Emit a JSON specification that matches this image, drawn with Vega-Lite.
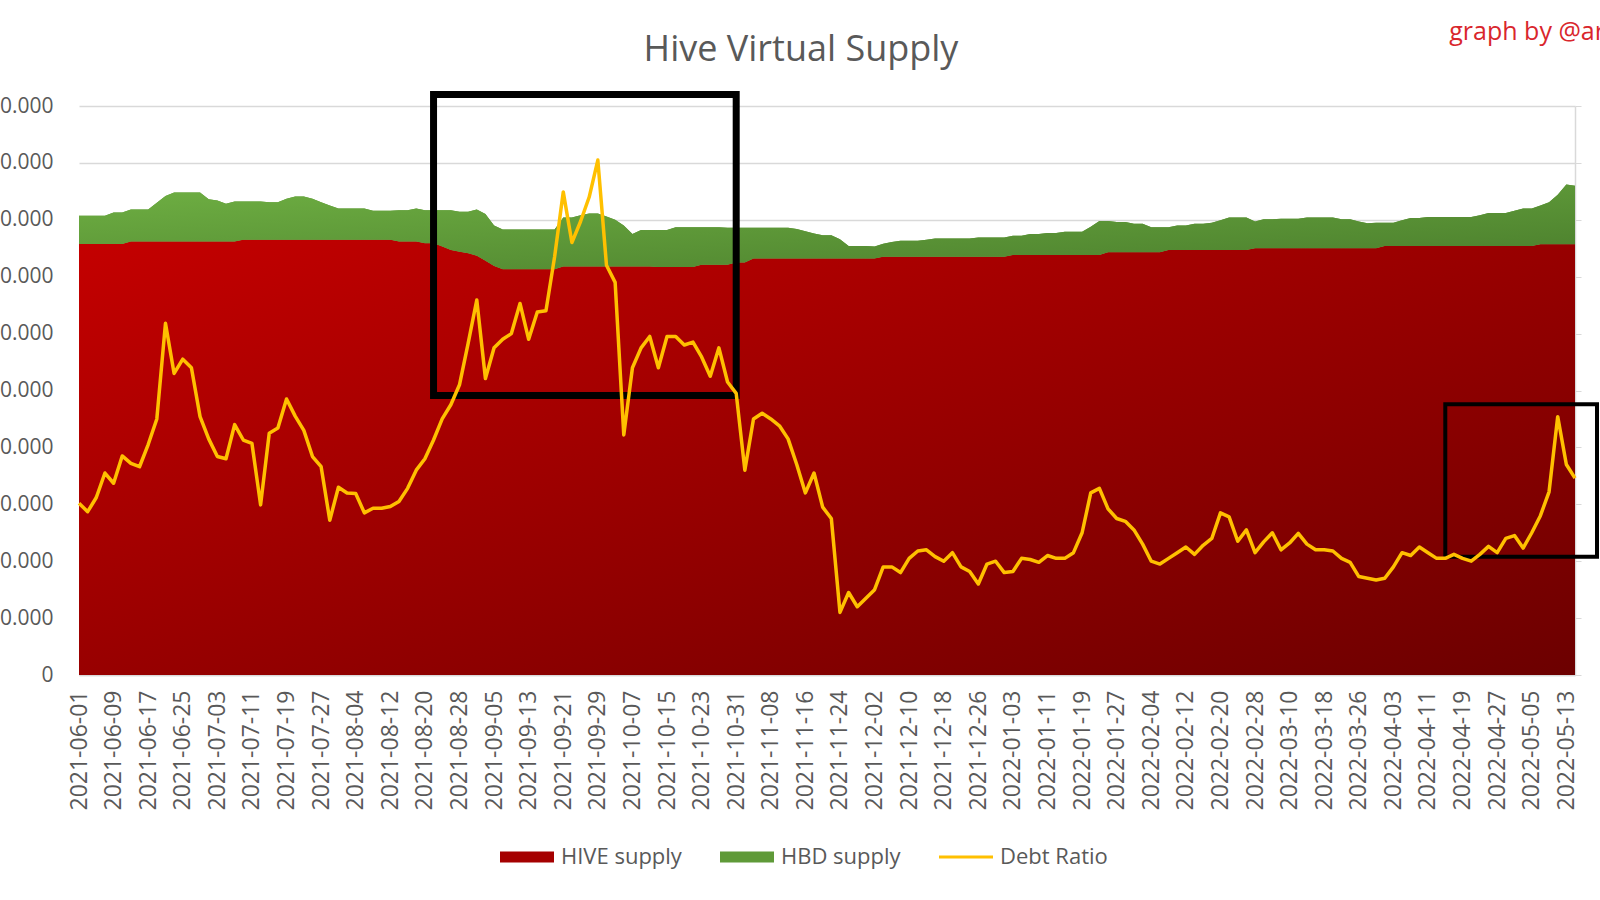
{
  "$schema": "https://vega.github.io/schema/vega-lite/v6.json",
  "width": 1496,
  "height": 569,
  "autosize": {"type": "none"},
  "padding": {"left": 79, "top": 106, "right": 25, "bottom": 225},
  "background": "white",
  "config": {
    "font": "Open Sans",
    "view": {"stroke": null},
    "axis": {"labelFont": "Open Sans", "labelColor": "#595959", "labelFontSize": 21}
  },
  "title": {
    "text": "Hive Virtual Supply",
    "font": "Open Sans",
    "fontSize": 36,
    "fontWeight": "normal",
    "color": "#595959",
    "anchor": "middle",
    "dx": -26,
    "offset": -49
  },
  "datasets": {
    "supply": [
      {"date": "2021-06-01", "hive": 378.8, "virtual": 403.5, "ratio": 3.02},
      {"date": "2021-06-03", "hive": 378.8, "virtual": 403.5, "ratio": 2.87},
      {"date": "2021-06-05", "hive": 378.8, "virtual": 403.5, "ratio": 3.12},
      {"date": "2021-06-07", "hive": 378.8, "virtual": 403.5, "ratio": 3.55},
      {"date": "2021-06-09", "hive": 378.8, "virtual": 406.5, "ratio": 3.37},
      {"date": "2021-06-11", "hive": 378.8, "virtual": 406.5, "ratio": 3.85},
      {"date": "2021-06-13", "hive": 381.0, "virtual": 409.0, "ratio": 3.72},
      {"date": "2021-06-15", "hive": 381.0, "virtual": 409.0, "ratio": 3.66},
      {"date": "2021-06-17", "hive": 381.0, "virtual": 409.0, "ratio": 4.05},
      {"date": "2021-06-19", "hive": 381.0, "virtual": 415.0, "ratio": 4.50},
      {"date": "2021-06-21", "hive": 381.0, "virtual": 421.0, "ratio": 6.18},
      {"date": "2021-06-23", "hive": 381.0, "virtual": 424.0, "ratio": 5.30},
      {"date": "2021-06-25", "hive": 381.0, "virtual": 424.0, "ratio": 5.55},
      {"date": "2021-06-27", "hive": 381.0, "virtual": 424.0, "ratio": 5.40},
      {"date": "2021-06-29", "hive": 381.0, "virtual": 424.0, "ratio": 4.54},
      {"date": "2021-07-01", "hive": 381.0, "virtual": 418.0, "ratio": 4.15},
      {"date": "2021-07-03", "hive": 381.0, "virtual": 417.0, "ratio": 3.84},
      {"date": "2021-07-05", "hive": 381.0, "virtual": 414.0, "ratio": 3.80},
      {"date": "2021-07-07", "hive": 381.0, "virtual": 416.0, "ratio": 4.40},
      {"date": "2021-07-09", "hive": 382.5, "virtual": 416.0, "ratio": 4.13},
      {"date": "2021-07-11", "hive": 382.5, "virtual": 416.0, "ratio": 4.07},
      {"date": "2021-07-13", "hive": 382.5, "virtual": 416.0, "ratio": 2.99},
      {"date": "2021-07-15", "hive": 382.5, "virtual": 415.5, "ratio": 4.25},
      {"date": "2021-07-17", "hive": 382.5, "virtual": 415.5, "ratio": 4.34},
      {"date": "2021-07-19", "hive": 382.5, "virtual": 418.5, "ratio": 4.85},
      {"date": "2021-07-21", "hive": 382.5, "virtual": 420.5, "ratio": 4.55},
      {"date": "2021-07-23", "hive": 382.5, "virtual": 420.5, "ratio": 4.30},
      {"date": "2021-07-25", "hive": 382.5, "virtual": 418.5, "ratio": 3.84},
      {"date": "2021-07-27", "hive": 382.5, "virtual": 415.5, "ratio": 3.66},
      {"date": "2021-07-29", "hive": 382.5, "virtual": 412.5, "ratio": 2.72},
      {"date": "2021-07-31", "hive": 382.5, "virtual": 410.0, "ratio": 3.30},
      {"date": "2021-08-02", "hive": 382.5, "virtual": 410.0, "ratio": 3.20},
      {"date": "2021-08-04", "hive": 382.5, "virtual": 410.0, "ratio": 3.19},
      {"date": "2021-08-06", "hive": 382.5, "virtual": 410.0, "ratio": 2.85},
      {"date": "2021-08-08", "hive": 382.5, "virtual": 408.0, "ratio": 2.93},
      {"date": "2021-08-10", "hive": 382.5, "virtual": 408.0, "ratio": 2.93},
      {"date": "2021-08-12", "hive": 382.5, "virtual": 408.0, "ratio": 2.96},
      {"date": "2021-08-14", "hive": 381.0, "virtual": 408.5, "ratio": 3.05},
      {"date": "2021-08-16", "hive": 381.0, "virtual": 408.5, "ratio": 3.28},
      {"date": "2021-08-18", "hive": 381.0, "virtual": 410.0, "ratio": 3.60},
      {"date": "2021-08-20", "hive": 379.5, "virtual": 408.5, "ratio": 3.80},
      {"date": "2021-08-22", "hive": 379.5, "virtual": 408.5, "ratio": 4.13},
      {"date": "2021-08-24", "hive": 376.5, "virtual": 408.5, "ratio": 4.50},
      {"date": "2021-08-26", "hive": 373.5, "virtual": 408.5, "ratio": 4.75},
      {"date": "2021-08-28", "hive": 372.0, "virtual": 407.0, "ratio": 5.10},
      {"date": "2021-08-30", "hive": 370.5, "virtual": 407.0, "ratio": 5.83},
      {"date": "2021-09-01", "hive": 368.5, "virtual": 409.0, "ratio": 6.59},
      {"date": "2021-09-03", "hive": 364.0, "virtual": 405.0, "ratio": 5.21},
      {"date": "2021-09-05", "hive": 359.5, "virtual": 395.0, "ratio": 5.75},
      {"date": "2021-09-07", "hive": 356.5, "virtual": 391.5, "ratio": 5.90},
      {"date": "2021-09-09", "hive": 356.5, "virtual": 391.5, "ratio": 6.00},
      {"date": "2021-09-11", "hive": 356.5, "virtual": 391.5, "ratio": 6.53},
      {"date": "2021-09-13", "hive": 356.5, "virtual": 391.5, "ratio": 5.90},
      {"date": "2021-09-15", "hive": 356.5, "virtual": 391.5, "ratio": 6.38},
      {"date": "2021-09-17", "hive": 356.5, "virtual": 391.5, "ratio": 6.40},
      {"date": "2021-09-19", "hive": 356.5, "virtual": 391.5, "ratio": 7.35},
      {"date": "2021-09-21", "hive": 359.0, "virtual": 402.0, "ratio": 8.49},
      {"date": "2021-09-23", "hive": 359.0, "virtual": 402.0, "ratio": 7.60},
      {"date": "2021-09-25", "hive": 359.0, "virtual": 404.0, "ratio": 7.97},
      {"date": "2021-09-27", "hive": 359.0, "virtual": 405.5, "ratio": 8.40},
      {"date": "2021-09-29", "hive": 359.0, "virtual": 405.5, "ratio": 9.05},
      {"date": "2021-10-01", "hive": 359.0, "virtual": 403.0, "ratio": 7.20},
      {"date": "2021-10-03", "hive": 359.0, "virtual": 400.0, "ratio": 6.90},
      {"date": "2021-10-05", "hive": 359.0, "virtual": 395.0, "ratio": 4.22},
      {"date": "2021-10-07", "hive": 359.0, "virtual": 387.5, "ratio": 5.40},
      {"date": "2021-10-09", "hive": 359.0, "virtual": 391.0, "ratio": 5.75},
      {"date": "2021-10-11", "hive": 359.0, "virtual": 391.0, "ratio": 5.95},
      {"date": "2021-10-13", "hive": 358.5, "virtual": 391.0, "ratio": 5.40},
      {"date": "2021-10-15", "hive": 358.5, "virtual": 391.0, "ratio": 5.95},
      {"date": "2021-10-17", "hive": 358.5, "virtual": 393.5, "ratio": 5.95},
      {"date": "2021-10-19", "hive": 358.5, "virtual": 393.5, "ratio": 5.80},
      {"date": "2021-10-21", "hive": 358.5, "virtual": 393.5, "ratio": 5.85},
      {"date": "2021-10-23", "hive": 360.5, "virtual": 393.5, "ratio": 5.59},
      {"date": "2021-10-25", "hive": 360.5, "virtual": 393.5, "ratio": 5.25},
      {"date": "2021-10-27", "hive": 360.5, "virtual": 393.5, "ratio": 5.75},
      {"date": "2021-10-29", "hive": 360.5, "virtual": 393.0, "ratio": 5.15},
      {"date": "2021-10-31", "hive": 362.5, "virtual": 393.0, "ratio": 4.95},
      {"date": "2021-11-02", "hive": 362.5, "virtual": 393.0, "ratio": 3.60},
      {"date": "2021-11-04", "hive": 366.0, "virtual": 393.0, "ratio": 4.50},
      {"date": "2021-11-06", "hive": 366.0, "virtual": 393.0, "ratio": 4.60},
      {"date": "2021-11-08", "hive": 366.0, "virtual": 393.0, "ratio": 4.50},
      {"date": "2021-11-10", "hive": 366.0, "virtual": 393.0, "ratio": 4.38},
      {"date": "2021-11-12", "hive": 366.0, "virtual": 393.0, "ratio": 4.15},
      {"date": "2021-11-14", "hive": 366.0, "virtual": 392.0, "ratio": 3.70},
      {"date": "2021-11-16", "hive": 366.0, "virtual": 390.0, "ratio": 3.20},
      {"date": "2021-11-18", "hive": 366.0, "virtual": 388.0, "ratio": 3.55},
      {"date": "2021-11-20", "hive": 366.0, "virtual": 386.5, "ratio": 2.95},
      {"date": "2021-11-22", "hive": 366.0, "virtual": 386.5, "ratio": 2.75},
      {"date": "2021-11-24", "hive": 366.0, "virtual": 383.0, "ratio": 1.10},
      {"date": "2021-11-26", "hive": 366.0, "virtual": 377.0, "ratio": 1.45},
      {"date": "2021-11-28", "hive": 366.0, "virtual": 377.0, "ratio": 1.20},
      {"date": "2021-11-30", "hive": 366.0, "virtual": 377.0, "ratio": 1.35},
      {"date": "2021-12-02", "hive": 366.0, "virtual": 376.5, "ratio": 1.50},
      {"date": "2021-12-04", "hive": 367.5, "virtual": 379.0, "ratio": 1.90},
      {"date": "2021-12-06", "hive": 367.5, "virtual": 380.5, "ratio": 1.90},
      {"date": "2021-12-08", "hive": 367.5, "virtual": 381.5, "ratio": 1.80},
      {"date": "2021-12-10", "hive": 367.5, "virtual": 381.5, "ratio": 2.05},
      {"date": "2021-12-12", "hive": 367.5, "virtual": 381.5, "ratio": 2.18},
      {"date": "2021-12-14", "hive": 367.5, "virtual": 382.5, "ratio": 2.20},
      {"date": "2021-12-16", "hive": 367.5, "virtual": 383.5, "ratio": 2.08},
      {"date": "2021-12-18", "hive": 367.5, "virtual": 383.5, "ratio": 2.00},
      {"date": "2021-12-20", "hive": 367.5, "virtual": 383.5, "ratio": 2.15},
      {"date": "2021-12-22", "hive": 367.5, "virtual": 383.5, "ratio": 1.90},
      {"date": "2021-12-24", "hive": 367.5, "virtual": 383.5, "ratio": 1.82},
      {"date": "2021-12-26", "hive": 367.5, "virtual": 384.5, "ratio": 1.60},
      {"date": "2021-12-28", "hive": 367.5, "virtual": 384.5, "ratio": 1.95},
      {"date": "2021-12-30", "hive": 367.5, "virtual": 384.5, "ratio": 2.00},
      {"date": "2022-01-01", "hive": 367.5, "virtual": 384.5, "ratio": 1.80},
      {"date": "2022-01-03", "hive": 369.0, "virtual": 386.0, "ratio": 1.82},
      {"date": "2022-01-05", "hive": 369.0, "virtual": 386.0, "ratio": 2.05},
      {"date": "2022-01-07", "hive": 369.0, "virtual": 387.5, "ratio": 2.03},
      {"date": "2022-01-09", "hive": 369.0, "virtual": 387.5, "ratio": 1.98},
      {"date": "2022-01-11", "hive": 369.0, "virtual": 388.5, "ratio": 2.10},
      {"date": "2022-01-13", "hive": 369.0, "virtual": 388.5, "ratio": 2.05},
      {"date": "2022-01-15", "hive": 369.0, "virtual": 389.5, "ratio": 2.05},
      {"date": "2022-01-17", "hive": 369.0, "virtual": 389.5, "ratio": 2.15},
      {"date": "2022-01-19", "hive": 369.0, "virtual": 389.5, "ratio": 2.50},
      {"date": "2022-01-21", "hive": 369.0, "virtual": 394.0, "ratio": 3.20},
      {"date": "2022-01-23", "hive": 369.0, "virtual": 399.0, "ratio": 3.28},
      {"date": "2022-01-25", "hive": 371.5, "virtual": 399.0, "ratio": 2.92},
      {"date": "2022-01-27", "hive": 371.5, "virtual": 398.0, "ratio": 2.75},
      {"date": "2022-01-29", "hive": 371.5, "virtual": 398.0, "ratio": 2.70},
      {"date": "2022-01-31", "hive": 371.5, "virtual": 396.5, "ratio": 2.55},
      {"date": "2022-02-02", "hive": 371.5, "virtual": 396.5, "ratio": 2.30},
      {"date": "2022-02-04", "hive": 371.5, "virtual": 393.5, "ratio": 2.00},
      {"date": "2022-02-06", "hive": 371.5, "virtual": 393.5, "ratio": 1.95},
      {"date": "2022-02-08", "hive": 373.5, "virtual": 393.5, "ratio": 2.05},
      {"date": "2022-02-10", "hive": 373.5, "virtual": 395.0, "ratio": 2.15},
      {"date": "2022-02-12", "hive": 373.5, "virtual": 395.0, "ratio": 2.25},
      {"date": "2022-02-14", "hive": 373.5, "virtual": 396.5, "ratio": 2.12},
      {"date": "2022-02-16", "hive": 373.5, "virtual": 396.5, "ratio": 2.28},
      {"date": "2022-02-18", "hive": 373.5, "virtual": 397.5, "ratio": 2.40},
      {"date": "2022-02-20", "hive": 373.5, "virtual": 399.5, "ratio": 2.85},
      {"date": "2022-02-22", "hive": 373.5, "virtual": 402.0, "ratio": 2.78},
      {"date": "2022-02-24", "hive": 373.5, "virtual": 402.0, "ratio": 2.35},
      {"date": "2022-02-26", "hive": 373.5, "virtual": 402.0, "ratio": 2.55},
      {"date": "2022-02-28", "hive": 375.0, "virtual": 398.5, "ratio": 2.15},
      {"date": "2022-03-04", "hive": 375.0, "virtual": 400.5, "ratio": 2.34},
      {"date": "2022-03-06", "hive": 375.0, "virtual": 400.5, "ratio": 2.50},
      {"date": "2022-03-08", "hive": 375.0, "virtual": 401.0, "ratio": 2.20},
      {"date": "2022-03-10", "hive": 375.0, "virtual": 401.0, "ratio": 2.32},
      {"date": "2022-03-12", "hive": 375.0, "virtual": 401.0, "ratio": 2.49},
      {"date": "2022-03-14", "hive": 375.0, "virtual": 402.0, "ratio": 2.30},
      {"date": "2022-03-16", "hive": 375.0, "virtual": 402.0, "ratio": 2.20},
      {"date": "2022-03-18", "hive": 375.0, "virtual": 402.0, "ratio": 2.20},
      {"date": "2022-03-20", "hive": 375.0, "virtual": 402.0, "ratio": 2.18},
      {"date": "2022-03-22", "hive": 375.0, "virtual": 400.5, "ratio": 2.05},
      {"date": "2022-03-24", "hive": 375.0, "virtual": 400.5, "ratio": 1.98},
      {"date": "2022-03-26", "hive": 375.0, "virtual": 398.5, "ratio": 1.73},
      {"date": "2022-03-28", "hive": 375.0, "virtual": 397.0, "ratio": 1.70},
      {"date": "2022-03-30", "hive": 375.0, "virtual": 397.5, "ratio": 1.67},
      {"date": "2022-04-01", "hive": 377.0, "virtual": 397.5, "ratio": 1.70},
      {"date": "2022-04-03", "hive": 377.0, "virtual": 397.5, "ratio": 1.90},
      {"date": "2022-04-05", "hive": 377.0, "virtual": 399.5, "ratio": 2.15},
      {"date": "2022-04-07", "hive": 377.0, "virtual": 401.5, "ratio": 2.10},
      {"date": "2022-04-09", "hive": 377.0, "virtual": 401.5, "ratio": 2.25},
      {"date": "2022-04-11", "hive": 377.0, "virtual": 402.5, "ratio": 2.15},
      {"date": "2022-04-13", "hive": 377.0, "virtual": 402.5, "ratio": 2.05},
      {"date": "2022-04-15", "hive": 377.0, "virtual": 402.5, "ratio": 2.05},
      {"date": "2022-04-17", "hive": 377.0, "virtual": 402.5, "ratio": 2.12},
      {"date": "2022-04-19", "hive": 377.0, "virtual": 402.5, "ratio": 2.05},
      {"date": "2022-04-21", "hive": 377.0, "virtual": 402.5, "ratio": 2.00},
      {"date": "2022-04-23", "hive": 377.0, "virtual": 404.0, "ratio": 2.12},
      {"date": "2022-04-25", "hive": 377.0, "virtual": 406.0, "ratio": 2.26},
      {"date": "2022-04-27", "hive": 377.0, "virtual": 406.0, "ratio": 2.15},
      {"date": "2022-04-29", "hive": 377.0, "virtual": 406.0, "ratio": 2.40},
      {"date": "2022-05-01", "hive": 377.0, "virtual": 408.0, "ratio": 2.45},
      {"date": "2022-05-03", "hive": 377.0, "virtual": 410.0, "ratio": 2.23},
      {"date": "2022-05-05", "hive": 377.0, "virtual": 410.0, "ratio": 2.50},
      {"date": "2022-05-07", "hive": 378.5, "virtual": 412.5, "ratio": 2.80},
      {"date": "2022-05-09", "hive": 378.5, "virtual": 415.5, "ratio": 3.22},
      {"date": "2022-05-11", "hive": 378.5, "virtual": 422.0, "ratio": 4.54},
      {"date": "2022-05-13", "hive": 378.5, "virtual": 431.0, "ratio": 3.70},
      {"date": "2022-05-15", "hive": 378.5, "virtual": 430.0, "ratio": 3.46}
    ],
    "boxes": [
      {"box": "september", "start": "2021-08-22", "end": "2021-10-31", "top": 510, "bottom": 245.5},
      {"box": "may", "start": "2022-04-15", "end": "2022-05-15", "top": 238, "bottom": 104}
    ],
    "notes": [
      {"date": "2022-04-15", "level": 558, "text": "graph by @ar"}
    ]
  },
  "encoding": {
    "x": {
      "field": "date",
      "type": "ordinal",
      "scale": {"type": "point", "padding": 0},
      "axis": {
        "title": null,
        "values": [
          "2021-06-01", "2021-06-09", "2021-06-17", "2021-06-25", "2021-07-03", "2021-07-11",
          "2021-07-19", "2021-07-27", "2021-08-04", "2021-08-12", "2021-08-20", "2021-08-28",
          "2021-09-05", "2021-09-13", "2021-09-21", "2021-09-29", "2021-10-07", "2021-10-15",
          "2021-10-23", "2021-10-31", "2021-11-08", "2021-11-16", "2021-11-24", "2021-12-02",
          "2021-12-10", "2021-12-18", "2021-12-26", "2022-01-03", "2022-01-11", "2022-01-19",
          "2022-01-27", "2022-02-04", "2022-02-12", "2022-02-20", "2022-02-28", "2022-03-10",
          "2022-03-18", "2022-03-26", "2022-04-03", "2022-04-11", "2022-04-19", "2022-04-27",
          "2022-05-05", "2022-05-13"
        ],
        "labelAngle": -90,
        "labelFontSize": 23,
        "labelPadding": 15,
        "labelOverlap": false,
        "ticks": false,
        "grid": false,
        "domainColor": "#d9d9d9",
        "domainWidth": 1.5
      }
    }
  },
  "layer": [
    {
      "encoding": {
        "y": {
          "field": "hive",
          "type": "quantitative",
          "scale": {"domain": [0, 500], "nice": false},
          "axis": {
            "title": null,
            "values": [0, 50, 100, 150, 200, 250, 300, 350, 400, 450, 500],
            "labelExpr": "replace(format(datum.value * 1000000, ','), regexp(',', 'g'), '.')",
            "labelPadding": 26,
            "domain": false,
            "ticks": false,
            "gridColor": "#d9d9d9",
            "gridWidth": 1.5
          }
        }
      },
      "layer": [
        {
          "data": {"name": "supply"},
          "mark": {"type": "area", "interpolate": "linear"},
          "encoding": {
            "color": {
              "datum": "HIVE supply",
              "type": "nominal",
              "scale": {
                "domain": ["HIVE supply", "HBD supply", "Debt Ratio"],
                "range": ["#a50000", "#5f9a38", "#ffc000"]
              },
              "legend": {
                "title": null,
                "orient": "none",
                "legendX": 421,
                "legendY": 724,
                "direction": "horizontal",
                "columns": 3,
                "padding": 0,
                "columnPadding": 38,
                "symbolType": "M-1,-0.2H1V0.2H-1Z",
                "symbolSize": 2916,
                "symbolStrokeWidth": 0,
                "labelFontSize": 22,
                "labelColor": "#595959",
                "labelFont": "Open Sans",
                "labelOffset": 7,
                "encode": {
                  "symbols": {
                    "update": {
                      "shape": {"signal": "datum.value === 'Debt Ratio' ? 'M-1,-0.06H1V0.06H-1Z' : 'M-1,-0.2H1V0.2H-1Z'"},
                      "fill": {"signal": "datum.value === 'HIVE supply' ? {gradient: 'linear', x1: 0, y1: 0, x2: 1, y2: 1, stops: [{offset: 0, color: '#c40000'}, {offset: 1, color: '#6c0000'}]} : datum.value === 'HBD supply' ? {gradient: 'linear', x1: 0, y1: 0, x2: 1, y2: 1, stops: [{offset: 0, color: '#6cae40'}, {offset: 1, color: '#4a7d2c'}]} : '#ffc000'"},
                      "stroke": {"value": "transparent"},
                      "strokeWidth": {"value": 0},
                      "opacity": {"value": 1}
                    }
                  }
                }
              }
            }
          }
        },
        {
          "data": {"name": "supply"},
          "mark": {"type": "area", "interpolate": "linear"},
          "encoding": {
            "y": {"field": "virtual", "type": "quantitative"},
            "y2": {"field": "hive"},
            "color": {"datum": "HBD supply", "type": "nominal"}
          }
        },
        {
          "data": {"name": "supply"},
          "mark": {
            "type": "area",
            "interpolate": "linear",
            "fill": {
              "gradient": "linear",
              "x1": 0, "y1": 0, "x2": 1, "y2": 1,
              "stops": [
                {"offset": 0, "color": "#c40000"},
                {"offset": 1, "color": "#6c0000"}
              ]
            }
          },
          "encoding": {}
        },
        {
          "data": {"name": "supply"},
          "mark": {
            "type": "area",
            "interpolate": "linear",
            "fill": {
              "gradient": "linear",
              "x1": 0, "y1": 0, "x2": 1, "y2": 1,
              "stops": [
                {"offset": 0, "color": "#6fb043"},
                {"offset": 1, "color": "#4a7d2c"}
              ]
            }
          },
          "encoding": {
            "y": {"field": "virtual", "type": "quantitative"},
            "y2": {"field": "hive"}
          }
        },
        {
          "data": {"name": "boxes"},
          "transform": [{"filter": "datum.box === 'september'"}],
          "mark": {"type": "rect", "filled": false, "stroke": "black", "strokeWidth": 7},
          "encoding": {
            "x": {"field": "start", "type": "ordinal"},
            "x2": {"field": "end"},
            "y": {"field": "top", "type": "quantitative"},
            "y2": {"field": "bottom"}
          }
        },
        {
          "data": {"name": "boxes"},
          "transform": [{"filter": "datum.box === 'may'"}],
          "mark": {"type": "rect", "filled": false, "stroke": "black", "strokeWidth": 4, "x2Offset": 22},
          "encoding": {
            "x": {"field": "start", "type": "ordinal"},
            "x2": {"field": "end"},
            "y": {"field": "top", "type": "quantitative"},
            "y2": {"field": "bottom"}
          }
        },
        {
          "data": {"name": "notes"},
          "mark": {
            "type": "text",
            "align": "left",
            "baseline": "alphabetic",
            "font": "Open Sans",
            "fontSize": 25,
            "color": "#d9262c",
            "dx": 4
          },
          "encoding": {
            "x": {"field": "date", "type": "ordinal"},
            "y": {"field": "level", "type": "quantitative"},
            "text": {"field": "text"}
          }
        }
      ]
    },
    {
      "data": {"name": "supply"},
      "mark": {"type": "line", "strokeWidth": 3.5, "strokeJoin": "round", "interpolate": "linear"},
      "encoding": {
        "y": {
          "field": "ratio",
          "type": "quantitative",
          "scale": {"domain": [0, 10], "nice": false},
          "axis": {
            "orient": "right",
            "title": null,
            "labels": false,
            "grid": false,
            "tickCount": 10,
            "ticks": true,
            "tickSize": 6,
            "tickColor": "#d9d9d9",
            "domainColor": "#d9d9d9",
            "domainWidth": 1.5
          }
        },
        "color": {"datum": "Debt Ratio", "type": "nominal"}
      }
    }
  ],
  "resolve": {"scale": {"y": "independent"}, "axis": {"y": "independent"}}
}
